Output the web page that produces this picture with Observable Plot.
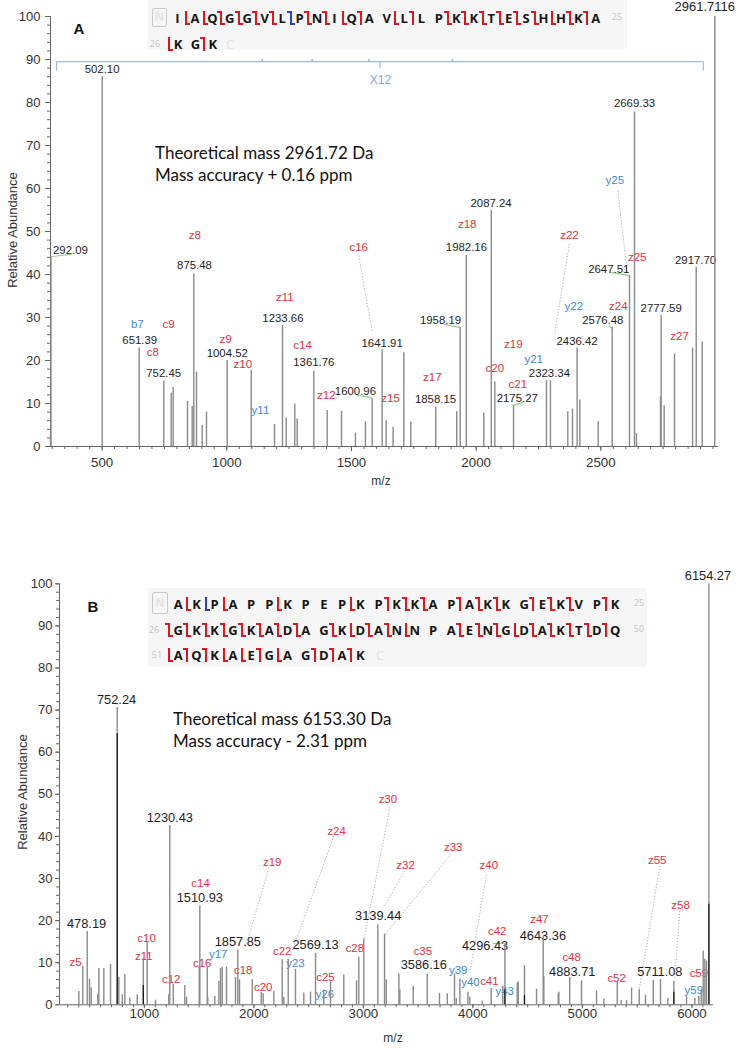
<!DOCTYPE html>
<html>
<head>
<meta charset="utf-8">
<script src="https://cdn.jsdelivr.net/npm/d3@7"></script>
<script src="https://cdn.jsdelivr.net/npm/@observablehq/plot@0.6"></script>
<style>
  html, body { margin: 0; padding: 0; background: #fff; }
  #root { position: relative; width: 741px; height: 1050px; overflow: hidden; font-family: "Liberation Sans", Arial, sans-serif; }
  .abs { position: absolute; white-space: nowrap; line-height: 1; }
  .seqbox { position: absolute; background: #f6f6f6; }
  .res { position: absolute; width: 16px; text-align: center; font: 700 13px/18px "Open Sans", sans-serif; color: #151515; }
  .num { position: absolute; font: 400 9px/10px "Open Sans", sans-serif; color: #c4c4c4; }
  .mk { position: absolute; width: 6px; height: 14px; }
  .mk i { position: absolute; display: block; background: currentColor; }
  .nbox { position: absolute; border: 1.5px solid #c8c8c8; border-radius: 2px; box-sizing: border-box; color: #e4e4e4; font: 700 12px "Open Sans", sans-serif; text-align: center; }
</style>
</head>
<body>
<div id="root"></div>
<script>
// ---------------- Panel A data ----------------
const aPeakMz = [293, 295, 500.3, 648.7, 747.4, 777, 785, 842.4, 861.3, 867.7, 878.5, 901.4, 918.6, 1001.7, 1098, 1191.4, 1223.4, 1238.3, 1272.8, 1282.4, 1349, 1402.7, 1460, 1516, 1556, 1583, 1623, 1639, 1667, 1710, 1738, 1838, 1922, 1936, 1960.5, 2030.8, 2060.8, 2075, 2150, 2282, 2298, 2367.6, 2386.5, 2405, 2415.8, 2489.5, 2545.7, 2615, 2635, 2643, 2739.4, 2742, 2754, 2795.6, 2868, 2882.6, 2906.6, 2957];
const aPeakAb = [3, 44.2, 86, 22.9, 15.2, 12.4, 13.8, 10.5, 9.3, 40.2, 17.3, 4.9, 8.0, 20, 17.7, 5.1, 28.1, 6.6, 9.9, 6.4, 17.5, 8.4, 8.2, 3.1, 5.7, 11.1, 22.5, 6.0, 4.5, 21.8, 5.7, 9.2, 8.1, 27.7, 44.4, 7.8, 54.9, 15, 9.5, 15.3, 15.3, 8.1, 8.7, 22.9, 10.8, 5.8, 27.7, 39.8, 77.8, 3, 11.5, 30.5, 9.5, 21.5, 22.9, 41.7, 24.3, 100];

const aNumText = ["292.09", "502.10", "875.48", "651.39", "752.45", "1004.52", "1233.66", "1361.76", "1600.96", "1641.91", "1858.15", "1958.19", "1982.16", "2087.24", "2323.34", "2175.27", "2436.42", "2576.48", "2647.51", "2669.33", "2777.59", "2917.70", "2961.7116"];
const aNumMz = [373, 500, 870.5, 651, 747, 1002, 1225, 1349, 1516, 1623, 1837, 1857, 1961, 2060, 2294, 2165, 2405, 2508, 2532, 2635, 2742, 2880, 2917];
const aNumAb = [45.6, 87.7, 42.1, 24.7, 16.9, 21.6, 29.9, 19.5, 12.9, 24, 10.9, 29.3, 46.4, 56.6, 17.1, 11.1, 24.4, 29.3, 41.3, 79.8, 32.2, 43.3, 102.2];

const aIonText = ["z8", "b7", "c9", "c8", "z9", "z10", "y11", "z11", "c14", "z12", "c16", "z15", "z17", "z18", "c20", "z19", "y21", "c21", "z22", "y22", "z24", "z25", "y25", "z27"];
const aIonMz = [872, 641, 767, 703, 995, 1064, 1135, 1233, 1304, 1399, 1529, 1657, 1824, 1964, 2075, 2149, 2231, 2167, 2374, 2392, 2570, 2646, 2556, 2816];
const aIonAb = [49.1, 28.5, 28.5, 21.8, 25, 19.1, 8.4, 34.7, 23.5, 11.9, 46.4, 11.1, 16.1, 51.6, 18.2, 23.7, 20.2, 14.4, 49.1, 32.6, 32.6, 43.9, 61.9, 25.6];

// leader lines: [x1, y1, x2, y2]
const aGreen = [[300, 44.2, 380, 44.7], [1523, 11.9, 1583, 11.3], [1873, 28.4, 1935, 27.7], [2145, 9.5, 2191, 10.3], [2532, 28.1, 2546, 27.4], [2542, 40.5, 2612, 39.8]];
const aDotted = [[1529, 44.4, 1584, 26.5], [2374, 47.1, 2315, 26.2], [2568, 59.5, 2606, 40.5]];
// X12 bracket
const aBracketMz = [317, 2911];
const aBracketMid = 1614;
const aBracketDots = [1142, 1342, 1570, 1904];

const seqA = ["IAQGGVLPNIQAVLLPKKTESHHKA", "KGK"];
const seqAMarks = ["_ccbbbbBbbcz_cz_bbbbbbcbz", "c_z"];

// ---------------- Panel B data ----------------
const bPeakMz = [401.5, 438, 478, 499, 515, 575, 584, 630, 691, 752, 767, 798, 821.6, 867, 935, 990, 1026, 1102, 1223, 1232, 1263.5, 1369, 1385, 1501, 1506.5, 1574, 1579, 1643, 1680, 1695.5, 1711, 1750, 1832, 1853, 1869, 1985, 2067, 2085, 2182, 2259, 2273.5, 2313.6, 2380, 2456, 2517, 2563, 2639, 2700, 2821, 2937, 2958, 3004, 3132, 3193, 3209, 3324, 3333, 3455, 3583, 3695, 3766, 3832, 3848, 3881, 3954, 3972, 4085, 4167, 4273, 4292, 4405, 4414, 4471, 4581, 4642, 4648, 4779, 4785, 4884, 4992, 5129, 5196, 5318, 5354, 5403, 5449, 5519, 5576, 5647, 5713, 5780, 5835, 5951, 6027, 6063, 6085, 6103, 6118, 6133, 6155];
const bPeakAb = [3.2, 9.1, 17.4, 6.1, 4, 2.5, 8.6, 8.6, 9.6, 70.6, 6.5, 2.4, 7.2, 1.6, 2.4, 11, 14.8, 1.1, 2.4, 42.6, 4.8, 4.6, 1.8, 9.2, 23.5, 8.9, 1.7, 2.0, 5.6, 8.6, 9.0, 9, 6.5, 13.0, 5.9, 6.0, 2.9, 2.6, 3.2, 10.7, 1.8, 10.8, 8.4, 2.8, 3, 12.2, 3.5, 5.5, 7.1, 5.7, 11.3, 15.6, 19.0, 16.8, 5.9, 7.4, 3.6, 4.4, 7.3, 2.7, 2.6, 7.3, 1.5, 6.1, 3, 1.8, 0.9, 3.9, 4.4, 14.5, 5.2, 5.5, 9.3, 3.7, 16.4, 6.7, 2.6, 3, 6.5, 5.7, 3.3, 1.4, 5.5, 1, 1, 4.0, 3.6, 2.3, 5.8, 6, 1.5, 5.6, 2, 1.5, 2, 3.6, 12.8, 10.8, 10.4, 100];
const bDarkMz = [752, 990, 4292, 4471, 5835, 6155];
const bDarkAb = [64.4, 4.6, 3.6, 2.2, 3, 23.9];

const bNumText = ["478.19", "752.24", "1230.43", "1510.93", "1857.85", "2569.13", "3139.44", "3586.16", "4296.43", "4643.36", "4883.71", "5711.08", "6154.27"];
const bNumMz = [472, 746, 1232, 1506, 1853, 2563, 3135, 3552, 4111, 4639, 4907, 5707, 6146];
const bNumAb = [19.3, 72.5, 44.5, 25.5, 14.9, 14.3, 21.0, 9.4, 14.1, 16.4, 7.9, 7.9, 101.9];

const bIonText = ["z5", "c10", "z11", "c12", "c14", "c16", "y17", "z19", "c18", "c20", "z24", "c22", "y23", "c25", "y26", "c28", "z30", "z32", "z33", "z40", "c35", "y39", "y40", "c41", "y43", "c42", "z47", "c48", "c52", "z55", "z58", "c59", "y59"];
const bIonMz = [371.5, 1020, 995, 1245, 1513, 1528, 1674, 2167, 1903, 2085, 2755, 2259, 2380, 2654, 2648, 2922, 3223, 3385, 3820, 4145, 3543, 3866, 3978, 4150, 4290, 4222, 4608, 4901, 5312, 5683, 5896, 6063, 6017];
const bIonAb = [10.1, 15.8, 11.6, 6.1, 28.9, 9.8, 11.9, 33.8, 8.1, 4.1, 41.2, 12.8, 9.8, 6.5, 2.5, 13.3, 48.9, 33.2, 37.5, 33.2, 12.8, 8.1, 5.3, 5.5, 3.1, 17.4, 20.4, 11.2, 6.3, 34.4, 23.7, 7.4, 3.5];

const bGreen = [[4176, 14.6, 4282, 14.6]];
const bDotted = [[2137, 32.5, 1924, 13.6], [2730, 40.1, 2328, 11.2], [3242, 46.9, 3004, 15.2], [3376, 31.8, 3187, 23.1], [3802, 35.8, 3202, 16.8], [4124, 31, 3972, 7.7], [5707, 33, 5519, 3.7], [5890, 22.3, 5841, 6.1]];

const seqB = ["AKPAPPKPEPKPKKAPAKKGEKVPK", "GKKGKADAGKDANNPAENGDAKTDQ", "AQKAEGAGDAK"];
const seqBMarks = ["_cuc__c___c_zbb_zbb_zbb_z", "bbbbbbbb_bcbbc__bbbcbbbbz", "czzcczc_zzz"];

// ---------------- helpers ----------------
const RED = "#e8303a", BLUE = "#3b8bd0", NUMC = "#1e1e1e";
const root = document.getElementById("root");
const zip2 = (xs, ys) => xs.map((x, i) => ({mz: x, ab: ys[i]}));
const labels = (t, m, a) => t.map((s, i) => ({text: s, mz: m[i], ab: a[i], color: /^[yb]/.test(s) ? BLUE : (/^[cz]/.test(s) ? RED : NUMC)}));
const segs = (arr) => arr.map(([x1, y1, x2, y2]) => ({x1, y1, x2, y2}));

function addText(txt, x, y, style, anchor = "center") {
  const d = document.createElement("div");
  d.className = "abs";
  d.textContent = txt;
  d.style.left = x + "px";
  d.style.top = y + "px";
  d.style.transform = anchor === "left" ? "translate(0,-50%)" : "translate(-50%,-50%)";
  Object.assign(d.style, style);
  root.appendChild(d);
  return d;
}

function spectrum({peaks, dark, nums, ions, green, dotted, domain, top, height, mL, mR, mT, mB, xMajor, xMinor, xTickSize, xPad, yPad, yTickSize, numSize, ionSize, extra}) {
  const marks = [
    Plot.ruleY([0], {stroke: "#666", strokeWidth: 1}),
    Plot.ruleX([domain[0]], {stroke: "#666", strokeWidth: 1}),
    Plot.axisY({ticks: d3.range(0, 101, 10), tickSize: yTickSize, tickPadding: yPad, fontSize: 13, label: null, stroke: "#666", tickFormat: (d) => String(d)}),
    Plot.axisY({ticks: d3.range(0, 101, 2), tickSize: 3, tickFormat: () => "", label: null, stroke: "#666"}),
    Plot.axisX({ticks: xMajor, tickSize: xTickSize, tickPadding: xPad, fontSize: 13.3, label: null, stroke: "#666", tickFormat: (d) => String(d)}),
    Plot.axisX({ticks: xMinor, tickSize: 3, tickFormat: () => "", label: null, stroke: "#666"}),
    Plot.link(segs(dotted), {x1: "x1", y1: "y1", x2: "x2", y2: "y2", stroke: "#a8a8a8", strokeWidth: 0.9, strokeDasharray: "1.3,1.7"}),
    Plot.link(segs(green), {x1: "x1", y1: "y1", x2: "x2", y2: "y2", stroke: "#8fcf8f", strokeWidth: 1.1}),
    ...(extra || []),
    Plot.text(nums, {x: "mz", y: "ab", text: "text", fill: "color", fontSize: (d) => d.text.length > 8 ? 13 : numSize}),
    Plot.text(ions, {x: "mz", y: "ab", text: "text", fill: "color", fontSize: ionSize}),
    Plot.ruleX(peaks, {x: "mz", y1: 0, y2: "ab", stroke: "#8a8a8a", strokeWidth: 1.4}),
    Plot.ruleX(dark, {x: "mz", y1: 0, y2: "ab", stroke: "#111", strokeWidth: 1.2})
  ];
  const svg = Plot.plot({
    width: 741, height,
    marginLeft: mL, marginRight: mR, marginTop: mT, marginBottom: mB,
    x: {domain},
    y: {domain: [0, 100]},
    style: {fontFamily: "'Liberation Sans', Arial, sans-serif", color: "#333", background: "transparent", overflow: "visible"},
    marks
  });
  svg.style.position = "absolute";
  svg.style.left = "0px";
  svg.style.top = top + "px";
  root.appendChild(svg);
}

// ---------------- Panel A plot ----------------
const domA = [293, 2972];
const bracketExtra = [
  Plot.link([{x1: aBracketMz[0], x2: aBracketMz[1], y1: 89.5, y2: 89.5}], {x1: "x1", x2: "x2", y1: "y1", y2: "y2", stroke: "#9dbde0", strokeWidth: 1.2}),
  Plot.link(aBracketMz.map(m => ({x1: m, x2: m, y1: 89.5, y2: 87.4})), {x1: "x1", x2: "x2", y1: "y1", y2: "y2", stroke: "#9dbde0", strokeWidth: 1.2}),
  Plot.link([{x1: aBracketMid, x2: aBracketMid, y1: 89.5, y2: 87.9}], {x1: "x1", x2: "x2", y1: "y1", y2: "y2", stroke: "#9dbde0", strokeWidth: 1.2}),
  Plot.link(aBracketDots.map(m => ({x1: m, x2: m, y1: 89.5, y2: 90.1})), {x1: "x1", x2: "x2", y1: "y1", y2: "y2", stroke: "#8aa", strokeWidth: 1.2}),
  Plot.text([{mz: aBracketMid + 2, ab: 85.1, t: "X12"}], {x: "mz", y: "ab", text: "t", fill: "#7fa9d6", fontSize: 12})
];
spectrum({
  peaks: zip2(aPeakMz, aPeakAb), dark: [],
  nums: labels(aNumText, aNumMz, aNumAb), ions: labels(aIonText, aIonMz, aIonAb),
  green: aGreen, dotted: aDotted, domain: domA,
  top: 0, height: 490, mL: 50, mR: 23, mT: 16, mB: 44,
  xMajor: [500, 1000, 1500, 2000, 2500], xMinor: d3.range(300, 2972, 50),
  xTickSize: 5, xPad: 6, yPad: 5, yTickSize: 5, numSize: 11.4, ionSize: 11.5, extra: bracketExtra
});

// ---------------- Panel B plot ----------------
const domB = [225, 6197];
spectrum({
  peaks: zip2(bPeakMz, bPeakAb), dark: zip2(bDarkMz, bDarkAb),
  nums: labels(bNumText, bNumMz, bNumAb), ions: labels(bIonText, bIonMz, bIonAb),
  green: bGreen, dotted: bDotted, domain: domB,
  top: 520, height: 530, mL: 59, mR: 28, mT: 63.3, mB: 45.7,
  xMajor: [1000, 2000, 3000, 4000, 5000, 6000], xMinor: d3.range(300, 6197, 100),
  xTickSize: 4, xPad: 0, yPad: 3, yTickSize: 4, numSize: 12.8, ionSize: 11.4
});

// ---------------- texts ----------------
const axisLabelStyle = {fontSize: "13px", color: "#333", fontFamily: "'Liberation Sans', Arial, sans-serif"};
function rotLabel(txt, x, y) {
  const d = addText(txt, x, y, axisLabelStyle);
  d.style.transform = "translate(-50%,-50%) rotate(-90deg)";
}
rotLabel("Relative Abundance", 12, 230);
rotLabel("Relative Abundance", 22, 792);
addText("m/z", 381, 481, {fontSize: "12px", color: "#333"});
addText("m/z", 393, 1038, {fontSize: "12px", color: "#333"});
addText("A", 79, 28, {fontSize: "15px", fontWeight: "700", color: "#111"});
addText("B", 93, 606, {fontSize: "15px", fontWeight: "700", color: "#111"});

const infoStyle = {fontFamily: "Lato, 'Open Sans', sans-serif", fontSize: "17px", color: "#111"};
addText("Theoretical mass 2961.72 Da", 155, 152, infoStyle, "left");
addText("Mass accuracy + 0.16 ppm", 155, 174, infoStyle, "left");
addText("Theoretical mass 6153.30 Da", 173, 718, infoStyle, "left");
addText("Mass accuracy - 2.31 ppm", 173, 740, infoStyle, "left");

// ---------------- sequence boxes ----------------
function box(x, y, w, h) {
  const b = document.createElement("div");
  b.className = "seqbox";
  Object.assign(b.style, {left: x + "px", top: y + "px", width: w + "px", height: h + "px"});
  root.appendChild(b);
}
function nBox(x, y, w, h) {
  const b = document.createElement("div");
  b.className = "nbox";
  b.textContent = "N";
  Object.assign(b.style, {left: x + "px", top: y + "px", width: w + "px", height: h + "px", lineHeight: (h - 3) + "px"});
  root.appendChild(b);
}
function num(t, x, y) {
  const s = document.createElement("span");
  s.className = "num";
  s.textContent = t;
  s.style.left = (x - 6) + "px";
  s.style.top = (y - 5) + "px";
  s.style.width = "12px";
  s.style.textAlign = "center";
  root.appendChild(s);
}
function marker(type, mx, y) {
  const blue = type === "B" || type === "u";
  const t = type.toLowerCase();
  const m = document.createElement("div");
  m.className = "mk";
  m.style.left = (mx - 3) + "px";
  m.style.top = (y - 7) + "px";
  m.style.color = blue ? "#2a3fd0" : "#e3141c";
  const bar = document.createElement("i");
  Object.assign(bar.style, {left: "2px", top: "0px", width: "2px", height: "14px"});
  m.appendChild(bar);
  if (t === "z" || t === "b") {
    const f = document.createElement("i");
    Object.assign(f.style, {left: "-1px", top: "0px", width: "4px", height: "2px"});
    m.appendChild(f);
  }
  if (t === "c" || t === "b" || t === "u") {
    const f = document.createElement("i");
    Object.assign(f.style, {left: "3px", top: "12px", width: "4px", height: "2px"});
    m.appendChild(f);
  }
  root.appendChild(m);
}
function seqRow(letters, marks, x0, pitch, y) {
  for (let i = 0; i < letters.length; i++) {
    const cx = x0 + i * pitch;
    const s = document.createElement("span");
    s.className = "res";
    s.textContent = letters[i];
    s.style.left = (cx - 8) + "px";
    s.style.top = (y - 9) + "px";
    root.appendChild(s);
    if (marks[i] !== "_") marker(marks[i], cx - pitch / 2, y);
  }
}
function cTail(x, y) {
  const s = document.createElement("span");
  s.className = "res";
  s.textContent = "C";
  s.style.color = "#e2e2e2";
  s.style.fontWeight = "400";
  s.style.left = (x - 8) + "px";
  s.style.top = (y - 9) + "px";
  root.appendChild(s);
}

// Panel A sequence
box(148, 0, 479, 50);
nBox(152, 8, 15, 19);
seqRow(seqA[0], seqAMarks[0], 177.5, 17.43, 18);
num("25", 617, 17);
num("26", 155, 44);
seqRow(seqA[1], seqAMarks[1], 178, 17.43, 44);
cTail(230, 44);

// Panel B sequence
box(148, 588, 499, 79);
nBox(152, 592, 16, 22);
seqRow(seqB[0], seqBMarks[0], 178.3, 18.2, 604);
num("25", 639, 603);
num("26", 154, 630);
seqRow(seqB[1], seqBMarks[1], 178.3, 18.2, 630);
num("50", 639, 629);
num("51", 157, 655);
seqRow(seqB[2], seqBMarks[2], 178.3, 18.2, 655);
cTail(380, 655);
</script>
</body>
</html>
